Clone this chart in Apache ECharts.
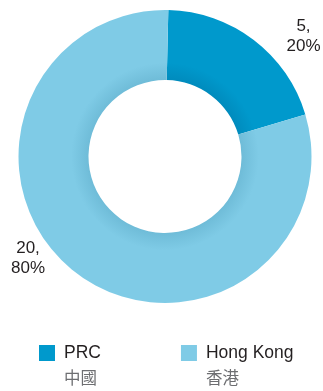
<!DOCTYPE html>
<html><head><meta charset="utf-8">
<script src="https://cdn.jsdelivr.net/npm/echarts@6/dist/echarts.min.js"></script>
<style>html,body{margin:0;padding:0;background:#fff}#c{width:323px;height:391px}</style>
</head><body><div id="c"></div>
<script>
const categories = ['PRC', 'Hong Kong'];
const categoriesZh = ['中國', '香港'];
const values = [5, 20];
const baseColors = ['#0099cc', '#7fcbe6'];
const shadeColors = ['#008bbd', '#6fbcd8'];

const cx = 165, cy = 156.5, rIn = 76.5, rOut = 146.5;
const labelPos = [[303.5, 36], [28, 258]];

function grad(i) {
  return new echarts.graphic.RadialGradient(cx, cy, rOut, [
    { offset: 0, color: shadeColors[i] },
    { offset: rIn / rOut, color: shadeColors[i] },
    { offset: 0.64, color: baseColors[i] },
    { offset: 1, color: baseColors[i] }
  ], true);
}

const chart = echarts.init(document.getElementById('c'));
chart.setOption({
  animation: false,
  legend: {
    left: 39,
    top: 323,
    padding: 0,
    orient: 'horizontal',
    itemWidth: 16,
    itemHeight: 16,
    itemGap: 80,
    icon: 'rect',
    data: categories.map((n, i) => ({ name: n, itemStyle: { color: baseColors[i] } })),
    formatter: function (name) {
      const i = categories.indexOf(name);
      return '{s| }\n{a|' + name + '}\n{b|' + categoriesZh[i] + '}';
    },
    textStyle: {
      rich: {
        s: { fontSize: 10, lineHeight: 25 },
        a: { fontSize: 17.5, lineHeight: 25, padding: [0, 0, 0, 4], color: '#231f20', fontFamily: 'Liberation Sans, Arial, sans-serif' },
        b: { fontSize: 16.5, lineHeight: 25, padding: [0, 0, 0, 4], color: '#6d6e71', fontFamily: 'Noto Sans CJK TC, sans-serif' }
      }
    }
  },
  series: [{
    type: 'pie',
    center: [cx, cy],
    radius: [rIn, rOut],
    startAngle: 88.7,
    clockwise: true,
    silent: true,
    label: {
      show: true,
      position: 'outside',
      formatter: '{c},\n{d}%',
      color: '#231f20',
      fontSize: 17,
      lineHeight: 20,
      align: 'center',
      overflow: 'none',
      width: 60,
      fontFamily: 'Liberation Sans, Arial, sans-serif'
    },
    labelLine: { show: false },
    labelLayout: function (p) {
      const pos = labelPos[p.dataIndex];
      return { x: pos[0], y: pos[1], align: 'center', verticalAlign: 'middle' };
    },
    data: categories.map((n, i) => ({ name: n, value: values[i], itemStyle: { color: grad(i) } }))
  }]
});
</script></body></html>
